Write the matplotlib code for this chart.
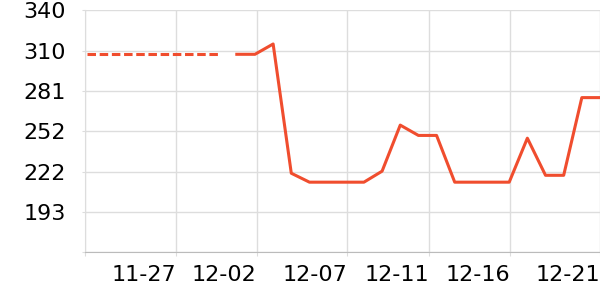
import matplotlib
matplotlib.use("Agg")
import matplotlib.pyplot as plt
import numpy as np

# day offsets relative to 12-02
solid_days = list(range(-1, 20))
solid_vals = [308, 308, 315.5, 221.5, 215, 215, 215, 215, 223, 256.5,
              249, 249, 215, 215, 215, 215, 247, 220, 220, 276.5, 276.5]
dash_days = list(range(-10, -1))
dash_vals = [308] * len(dash_days)

tick_pos = [-9.36, -4.36, 0.1, 5.06, 9.57, 14.03, 19.0]
tick_labels = ["", "11-27", "12-02", "12-07", "12-11", "12-16", "12-21"]

y_min, y_max = 164, 340
line_c = "#f04d2e"
grid_c = "#dddddd"

fig = plt.figure(figsize=(6, 3), dpi=100)
ax = fig.add_axes([85 / 600, 47.7 / 300, 515 / 600, 242 / 300])

ax.plot(dash_days, dash_vals, color=line_c, lw=2.2, ls=(3.4, (2.78, 1.21)), clip_on=True)
ax.plot(solid_days, solid_vals, color=line_c, lw=2.2, clip_on=True)

ax.set_xlim(tick_pos[0], tick_pos[-1])
ax.set_ylim(y_min, y_max)

yt = np.linspace(y_min, y_max, 7)
ax.set_yticks(yt)
ax.set_yticklabels([""] + [str(int(v)) for v in yt[1:]])
ax.set_xticks(tick_pos)
ax.set_xticklabels(tick_labels, ha="right")

ax.grid(True, color=grid_c, lw=1)
ax.set_axisbelow(True)
for s in ["top", "right"]:
    ax.spines[s].set_visible(False)
ax.spines["left"].set_color(grid_c)
ax.spines["bottom"].set_color("#bbbbbb")
ax.tick_params(axis="y", length=2, pad=12, color=grid_c, labelsize=16)
ax.tick_params(axis="x", length=3, pad=6, color=grid_c, labelsize=16)

fig.savefig("out.png", dpi=100)
